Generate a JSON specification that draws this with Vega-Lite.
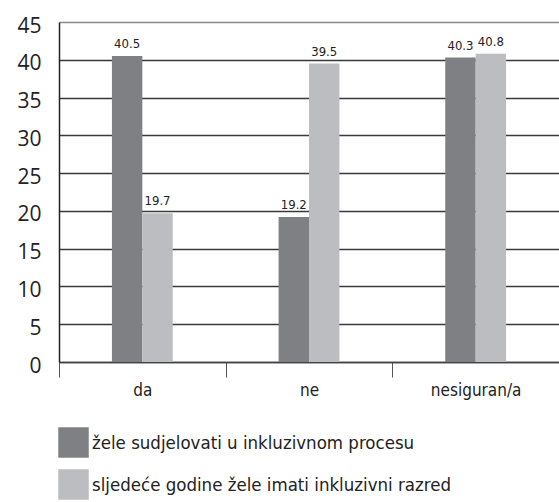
{
  "$schema": "https://vega.github.io/schema/vega-lite/v6.json",
  "autosize": {"type": "none"},
  "padding": {"left": 59, "top": 22, "right": 0, "bottom": 140},
  "width": 500,
  "height": 340,
  "background": "white",
  "config": {"view": {"stroke": null}},
  "data": {
    "values": [
      {"odgovor": "da", "serija": "žele sudjelovati u inkluzivnom procesu", "postotak": 40.5},
      {"odgovor": "da", "serija": "sljedeće godine žele imati inkluzivni razred", "postotak": 19.7},
      {"odgovor": "ne", "serija": "žele sudjelovati u inkluzivnom procesu", "postotak": 19.2},
      {"odgovor": "ne", "serija": "sljedeće godine žele imati inkluzivni razred", "postotak": 39.5},
      {"odgovor": "nesiguran/a", "serija": "žele sudjelovati u inkluzivnom procesu", "postotak": 40.3},
      {"odgovor": "nesiguran/a", "serija": "sljedeće godine žele imati inkluzivni razred", "postotak": 40.8}
    ]
  },
  "encoding": {
    "x": {
      "field": "odgovor", "type": "nominal", "sort": ["da", "ne", "nesiguran/a"],
      "scale": {"paddingInner": 0, "paddingOuter": 0},
      "axis": {
        "title": null, "labelAngle": 0, "tickBand": "extent", "tickSize": 15,
        "tickColor": "#555", "tickWidth": 1, "domainColor": "#444", "domainWidth": 1.5,
        "labelFont": "'DejaVu Sans Condensed', 'Liberation Sans Narrow', Roboto, sans-serif", "labelFontSize": 17, "labelColor": "#222",
        "labelPadding": 5, "grid": false
      }
    },
    "xOffset": {
      "field": "serija", "type": "nominal",
      "scale": {"domain": ["_a", "žele sudjelovati u inkluzivnom procesu", "sljedeće godine žele imati inkluzivni razred", "_b"], "paddingInner": 0, "paddingOuter": 0.74}
    },
    "y": {
      "field": "postotak", "type": "quantitative",
      "scale": {"domain": [0, 45], "nice": false},
      "axis": {
        "title": null, "values": [0, 5, 10, 15, 20, 25, 30, 35, 40, 45],
        "ticks": false, "domainColor": "#222", "domainWidth": 1.5,
        "gridColor": {"condition": {"test": "datum.value == 45", "value": "#8a8a8a"}, "value": "#3a3a3a"},
        "gridWidth": 1.3,
        "labelFont": "Open Sans", "labelFontSize": 21, "labelColor": "#222",
        "labelPadding": 18, "labelOffset": 4
      }
    }
  },
  "layer": [
    {
      "mark": {"type": "bar"},
      "encoding": {
        "color": {
          "field": "serija", "type": "nominal",
          "sort": ["žele sudjelovati u inkluzivnom procesu", "sljedeće godine žele imati inkluzivni razred"],
          "scale": {"range": ["#7f8084", "#bcbdc1"]},
          "legend": {
            "title": null, "orient": "none", "legendX": -1, "legendY": 405,
            "symbolType": "square", "symbolSize": 930, "symbolStrokeWidth": 0,
            "labelFont": "'DejaVu Sans Condensed', 'Liberation Sans Narrow', Roboto, sans-serif", "labelFontSize": 18.5, "labelColor": "#222",
            "labelOffset": 3, "rowPadding": 11, "labelLimit": 500
          }
        }
      }
    },
    {
      "mark": {"type": "text", "baseline": "alphabetic", "dy": -8, "font": "'DejaVu Sans Condensed', 'Liberation Sans Narrow', Roboto, sans-serif", "fontSize": 13, "color": "#222"},
      "encoding": {
        "text": {"field": "postotak", "type": "quantitative", "format": ".1f"}
      }
    }
  ]
}
